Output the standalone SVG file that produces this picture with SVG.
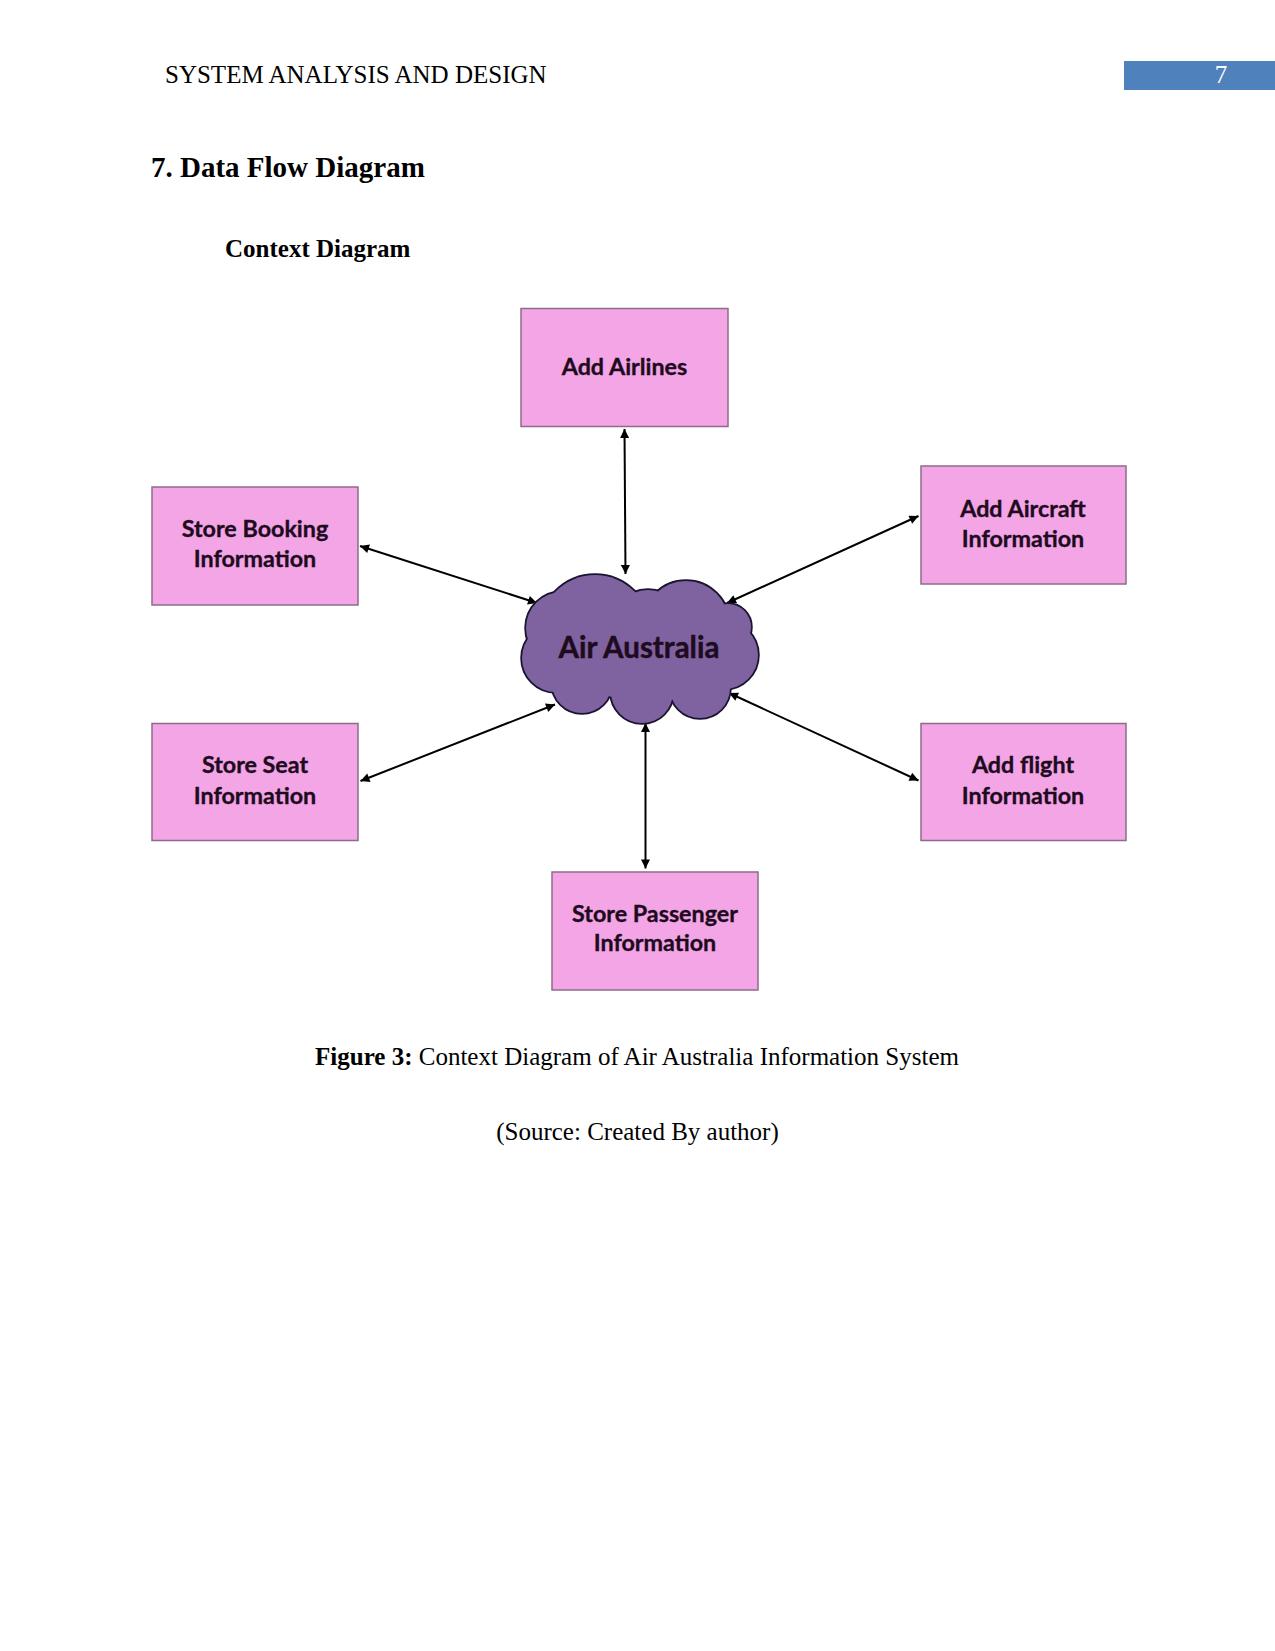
<svg xmlns="http://www.w3.org/2000/svg" width="1275" height="1651" viewBox="0 0 1275 1651">
<style>
.serif{font-family:"Liberation Serif","Times New Roman",serif;font-size:25px;fill:#000}
.b{font-weight:bold}
.box{fill:#F4A5E6;stroke:#8C6C8A;stroke-width:1.5}
.lbl{font-family:Lato,"Liberation Sans",sans-serif;font-weight:bold;font-size:23.3px;fill:#1E0B1E;stroke:#1E0B1E;stroke-width:0.35;text-anchor:middle}
.conn{stroke:#000;stroke-width:2;fill:none;marker-start:url(#ah);marker-end:url(#ah)}
</style>
<defs>
<marker id="ah" viewBox="0 0 10 10" refX="10" refY="5" markerWidth="11" markerHeight="9" markerUnits="userSpaceOnUse" orient="auto-start-reverse">
<path d="M0,0 L10,5 L0,10 z" fill="#000"/>
</marker>
<g id="cloudshapes">
<circle cx="595" cy="630" r="55"/>
<circle cx="686" cy="624" r="43"/>
<circle cx="648" cy="628" r="38"/>
<circle cx="728" cy="627" r="23"/>
<circle cx="724" cy="655" r="34"/>
<circle cx="700" cy="688" r="30"/>
<circle cx="642" cy="692" r="31"/>
<circle cx="582" cy="683" r="30"/>
<circle cx="556" cy="658" r="34"/>
<circle cx="562" cy="628" r="36"/>
<ellipse cx="640" cy="650" rx="80" ry="50"/>
</g>
</defs>
<rect width="1275" height="1651" fill="#fff"/>
<g id="header">
<text class="serif" x="165" y="83">SYSTEM ANALYSIS AND DESIGN</text>
<rect x="1124" y="61" width="151" height="29" fill="#4F81BD"/>
<text class="serif" x="1221" y="83" style="fill:#fff" text-anchor="middle">7</text>
</g>
<text class="serif b" x="151" y="177" style="font-size:29px">7. Data Flow Diagram</text>
<text class="serif b" x="225" y="257">Context Diagram</text>
<g id="connectors">
<line class="conn" x1="624.5" y1="429" x2="625.5" y2="574"/>
<line class="conn" x1="360" y1="546" x2="537" y2="603"/>
<line class="conn" x1="918.5" y1="516" x2="727" y2="603"/>
<line class="conn" x1="360.5" y1="781" x2="555" y2="704.5"/>
<line class="conn" x1="729" y1="693" x2="918.5" y2="780.5"/>
<line class="conn" x1="645.5" y1="723" x2="645.5" y2="868.5"/>
</g>
<g id="node-air-australia">
<use href="#cloudshapes" fill="#000" stroke="#1B1430" stroke-width="3.5"/>
<use href="#cloudshapes" fill="#7F63A1" stroke="none"/>
<text class="lbl" x="639" y="658" style="font-size:29.5px;stroke-width:0.45">Air Australia</text>
</g>
<g id="node-add-airlines">
<rect class="box" x="521" y="308.5" width="207" height="118"/>
<text class="lbl" x="624.5" y="375">Add Airlines</text>
</g>
<g id="node-store-booking">
<rect class="box" x="152" y="487" width="206" height="118"/>
<text class="lbl" x="255" y="537">Store Booking</text>
<text class="lbl" x="255" y="567">Information</text>
</g>
<g id="node-add-aircraft">
<rect class="box" x="921" y="466" width="205" height="118"/>
<text class="lbl" x="1023" y="517">Add Aircraft</text>
<text class="lbl" x="1023" y="547">Information</text>
</g>
<g id="node-store-seat">
<rect class="box" x="152" y="723.5" width="206" height="117"/>
<text class="lbl" x="255" y="773">Store Seat</text>
<text class="lbl" x="255" y="804">Information</text>
</g>
<g id="node-add-flight">
<rect class="box" x="921" y="723.5" width="205" height="117"/>
<text class="lbl" x="1023" y="773">Add flight</text>
<text class="lbl" x="1023" y="804">Information</text>
</g>
<g id="node-store-passenger">
<rect class="box" x="552" y="872" width="206" height="118"/>
<text class="lbl" x="655" y="922">Store Passenger</text>
<text class="lbl" x="655" y="951">Information</text>
</g>
<text class="serif" x="637" y="1065" text-anchor="middle"><tspan font-weight="bold">Figure 3:</tspan> Context Diagram of Air Australia Information System</text>
<text class="serif" x="637.5" y="1140" text-anchor="middle">(Source: Created By author)</text>
</svg>
